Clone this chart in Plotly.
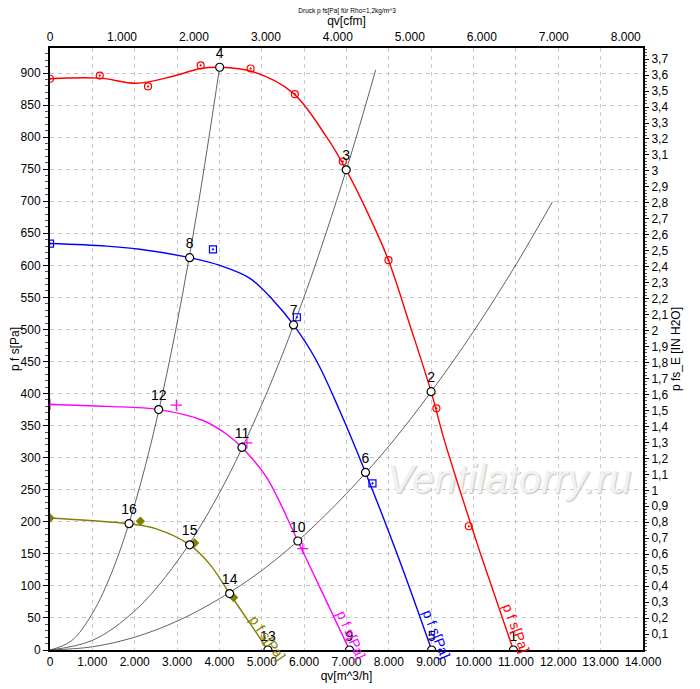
import numpy as np
import plotly.graph_objects as go

# Kennlinien: Volumenstrom qv [m^3/h] gegen Druck p fs [Pa]
PA_PER_INH2O = 249.09
M3H_PER_CFM = 1.69901
Q_MAX = 14000
P_MAX = 939

# Ventilatorkennlinien (Linien)
red_q = [0, 1175, 2040, 2903, 3557, 4005, 4790, 5733, 6521, 6993, 7542, 7991, 8486, 8997, 9311, 10059, 10215, 10940]
red_p = [891, 892, 884, 895, 907, 909, 902, 869, 801, 749, 676, 608, 509, 403, 327, 171, 140, 0]
blue_q = [0, 1332, 2118, 3297, 4005, 4712, 5262, 5750, 6285, 6835, 7448, 8250, 9010]
blue_p = [634, 630, 625, 612, 600, 580, 546, 507, 452, 374, 277, 140, 0]
mag_q = [0, 1332, 2566, 3611, 4163, 4531, 5106, 5851, 6441, 7071]
mag_p = [383, 380, 375, 358, 337, 316, 270, 170, 88, 0]
olive_q = [0, 939, 1866, 2511, 3297, 3769, 4241, 4790, 5144]
olive_p = [206, 202, 197, 189, 164, 134, 88, 35, 0]

# Messpunkte (Marker)
red_mq = [0, 1175, 2314, 3557, 4736, 5781, 6913, 7991, 9123, 9887]
red_mp = [891, 896, 879, 912, 907, 867, 762, 608, 377, 193]
blue_mq = [0, 3847, 5828, 7613]
blue_mp = [634, 625, 519, 260]
mag_mq = [0, 2983, 4649, 5969]
mag_mp = [383, 382, 323, 158]
olive_mq = [0, 2134, 3415, 4335]
olive_mp = [206, 201, 167, 82]

# Anlagenkennlinien
sys1_q = [0, 500, 1000, 1500, 2000, 2500, 3000, 3500, 4005]
sys1_p = [0, 14, 57, 128, 227, 354, 510, 695, 909]
sys2_q = [0, 1000, 2000, 3000, 4000, 5000, 6000, 7000, 7689]
sys2_p = [0, 15, 61, 138, 245, 383, 551, 750, 905]
sys3_q = [0, 1000, 2000, 3000, 4000, 5000, 6000, 7000, 8000, 9000, 10000, 11000, 11863]
sys3_p = [0, 5, 20, 45, 80, 124, 179, 244, 318, 403, 497, 601, 699]

# Betriebspunkte 1..16
op_q = [10940, 8997, 6993, 4005, 9010, 7448, 5750, 3297, 7071, 5851, 4531, 2566, 5144, 4241, 3297, 1866]
op_p = [0, 403, 749, 909, 0, 277, 507, 612, 0, 170, 316, 375, 0, 88, 164, 197]
op_labels = [str(i) for i in range(1, 17)]

FONT = "Arial, 'Liberation Sans', sans-serif"
RED, BLUE, MAG, OLIVE = "#ff0000", "#0000ff", "#ff00ff", "#808000"

fig = go.Figure()

# Wasserzeichen (unter allen Linien)
fig.add_trace(go.Scatter(x=[10844], y=[260], mode="text", text=["Ventilatorry.ru"],
                         textfont=dict(family=FONT, size=40, color="#f2f2f2", style="italic",
                                       shadow="1px 1px 1px #c4c4c4"),
                         hoverinfo="skip", showlegend=False))

# Anlagenkennlinien
for q, p in [(sys1_q, sys1_p), (sys2_q, sys2_p), (sys3_q, sys3_p)]:
    fig.add_trace(go.Scatter(x=q, y=p, mode="lines", line=dict(color="#505050", width=0.9, shape="spline"),
                             showlegend=False))

# Ventilatorkennlinien
curves = [
    (red_q, red_p, red_mq, red_mp, RED, "circle-open-dot", 7),
    (blue_q, blue_p, blue_mq, blue_mp, BLUE, "square-open-dot", 7),
    (mag_q, mag_p, mag_mq, mag_mp, MAG, "cross-thin-open", 8),
    (olive_q, olive_p, olive_mq, olive_mp, OLIVE, "diamond", 6),
]
for q, p, mq, mp, c, sym, sz in curves:
    fig.add_trace(go.Scatter(x=q, y=p, mode="lines", line=dict(color=c, width=1.4, shape="spline", smoothing=1.0),
                             showlegend=False))
    fig.add_trace(go.Scatter(x=mq, y=mp, mode="markers",
                             marker=dict(symbol=sym, size=sz, color=c, line=dict(color=c, width=1.2)),
                             showlegend=False))

# Betriebspunkte
fig.add_trace(go.Scatter(x=op_q, y=op_p, mode="markers+text", text=op_labels, textposition="top center",
                         textfont=dict(family=FONT, size=14, color="black"),
                         marker=dict(symbol="circle", size=8, color="white", line=dict(color="black", width=1.2)),
                         showlegend=False))

# Kurvenbeschriftungen
for xq, yp, c, ang in [(11009, 35, RED, 69), (9123, 25, BLUE, 68), (7118, 24, MAG, 66), (5137, 19, OLIVE, 55)]:
    fig.add_annotation(x=xq, y=yp, xref="x", yref="y", text="p f s[Pa]", showarrow=False,
                       textangle=ang, font=dict(family=FONT, size=14, color=c))

# Hilfsspuren für Zweitachsen
fig.add_trace(go.Scatter(x=[0, Q_MAX / M3H_PER_CFM], y=[0, 0], xaxis="x2", yaxis="y",
                         mode="lines", line=dict(width=0), hoverinfo="skip", showlegend=False))
fig.add_trace(go.Scatter(x=[0, 0], y=[0, P_MAX / PA_PER_INH2O], xaxis="x", yaxis="y2",
                         mode="lines", line=dict(width=0), hoverinfo="skip", showlegend=False))

grid = dict(showgrid=True, gridcolor="#c8c8c8", gridwidth=1, griddash="4px,4px")

# Seite hat 8px Rand -> Figur etwas kleiner
fig.update_layout(
    width=692, height=681,
    margin=dict(l=42, r=57, t=40, b=39),
    paper_bgcolor="white", plot_bgcolor="white",
    separators=",.",
    font=dict(family=FONT, size=12, color="black"),
    title=dict(text="Druck p fs[Pa] für Rho=1,2kg/m^3", x=0.49, xanchor="center", y=1.0,
               yanchor="top", font=dict(size=6.5)),
    xaxis=dict(range=[0, Q_MAX], dtick=1000, tickformat=",d", showline=True, linecolor="black", linewidth=2,
               ticks="", zeroline=False, automargin=False,
               title=dict(text="qv[m^3/h]", standoff=2, font=dict(size=12)), **grid),
    xaxis2=dict(range=[0, Q_MAX / M3H_PER_CFM], overlaying="x", side="top", dtick=1000, tickformat=",d",
                showline=True, linecolor="black", linewidth=2, showgrid=False, zeroline=False, ticks="",
                automargin=False,
                title=dict(text="qv[cfm]", standoff=2, font=dict(size=12))),
    yaxis=dict(range=[0, P_MAX], dtick=50, showline=True, linecolor="black", linewidth=2, zeroline=False,
               ticks="outside", ticklen=5, tickcolor="black", automargin=False,
               minor=dict(dtick=10, ticks="outside", ticklen=3, tickcolor="#555555", showgrid=False),
               title=dict(text="p f s[Pa]", standoff=2, font=dict(size=12)), **grid),
    yaxis2=dict(range=[0, P_MAX / PA_PER_INH2O], overlaying="y", side="right",
                tickvals=[round(0.1 * i, 1) for i in range(1, 38)],
                showline=True, linecolor="black", linewidth=2, showgrid=False, zeroline=False,
                ticks="outside", ticklen=4, tickcolor="black", automargin=False,
                minor=dict(dtick=0.02, ticks="outside", ticklen=2, tickcolor="#555555"),
                title=dict(text="p fs_E [IN H2O]", standoff=4, font=dict(size=12))),
)

fig.write_html("out.html")
